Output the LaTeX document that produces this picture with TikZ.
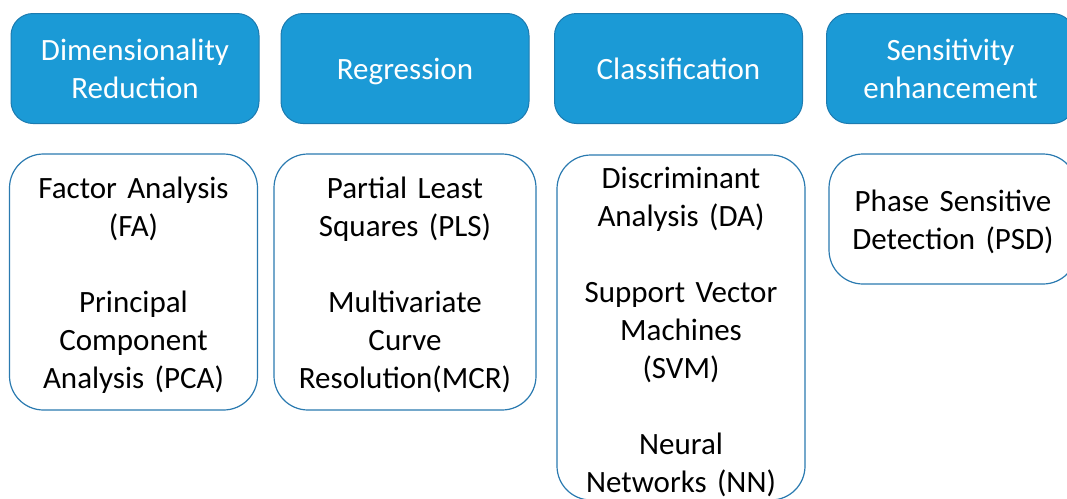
\documentclass[tikz,border=0pt]{standalone}
\usepackage{fontspec}
\setmainfont{Carlito}
\definecolor{headfill}{HTML}{1B9AD6}
\definecolor{headline}{HTML}{1C7BB0}
\definecolor{itemline}{HTML}{2A7AB0}
% raises the first line so that the text block sits a little lower
\newcommand{\toproom}{\rule{0pt}{27pt}}
\tikzset{
  head/.style={rectangle, rounded corners=22pt, fill=headfill, draw=headline,
    line width=1pt, inner sep=0pt, minimum width=248pt, minimum height=110pt,
    text width=240pt, align=center, text=white,
    font=\fontsize{31}{38}\selectfont},
  methods/.style={rectangle, rounded corners=34pt, fill=white, draw=itemline,
    line width=1.2pt, inner sep=0pt, minimum width=248pt,
    text width=240pt, align=center, text=black,
    font=\fontsize{31}{38}\selectfont},
}
\begin{document}
\begin{tikzpicture}[x=1pt, y=-1pt]
  \useasboundingbox (0,0) rectangle (1067,498);
  % category headers
  \node[head] (h1) at (135,68.5) {Dimensionality\\Reduction};
  \node[head] (h2) at (405,68.5) {\raisebox{0pt}[\height][0pt]{Regression}};
  \node[head] (h3) at (678.5,68.5) {Classification};
  \node[head] (h4) at (950.5,68.5) {Sensitivity\\enhancement};
  % methods under each category
  \node[methods, minimum height=256pt] (m1) at (133.5,282)
    {\toproom Factor Analysis\\(FA)\\[38pt]Principal\\Component\\Analysis (PCA)};
  \node[methods, minimum width=262pt, minimum height=256pt] (m2) at (405,282)
    {\toproom Partial Least\\Squares (PLS)\\[38pt]Multivariate\\Curve\\Resolution(MCR)};
  \node[methods, minimum height=345pt] (m3) at (681,327.5)
    {\rule{0pt}{30pt}Discriminant\\Analysis (DA)\\[38pt]Support Vector\\Machines\\(SVM)\\[38pt]Neural\\Networks (NN)};
  \node[methods, minimum height=130pt] (m4) at (953,219)
    {\toproom Phase Sensitive\\Detection (PSD)};
\end{tikzpicture}
\end{document}
